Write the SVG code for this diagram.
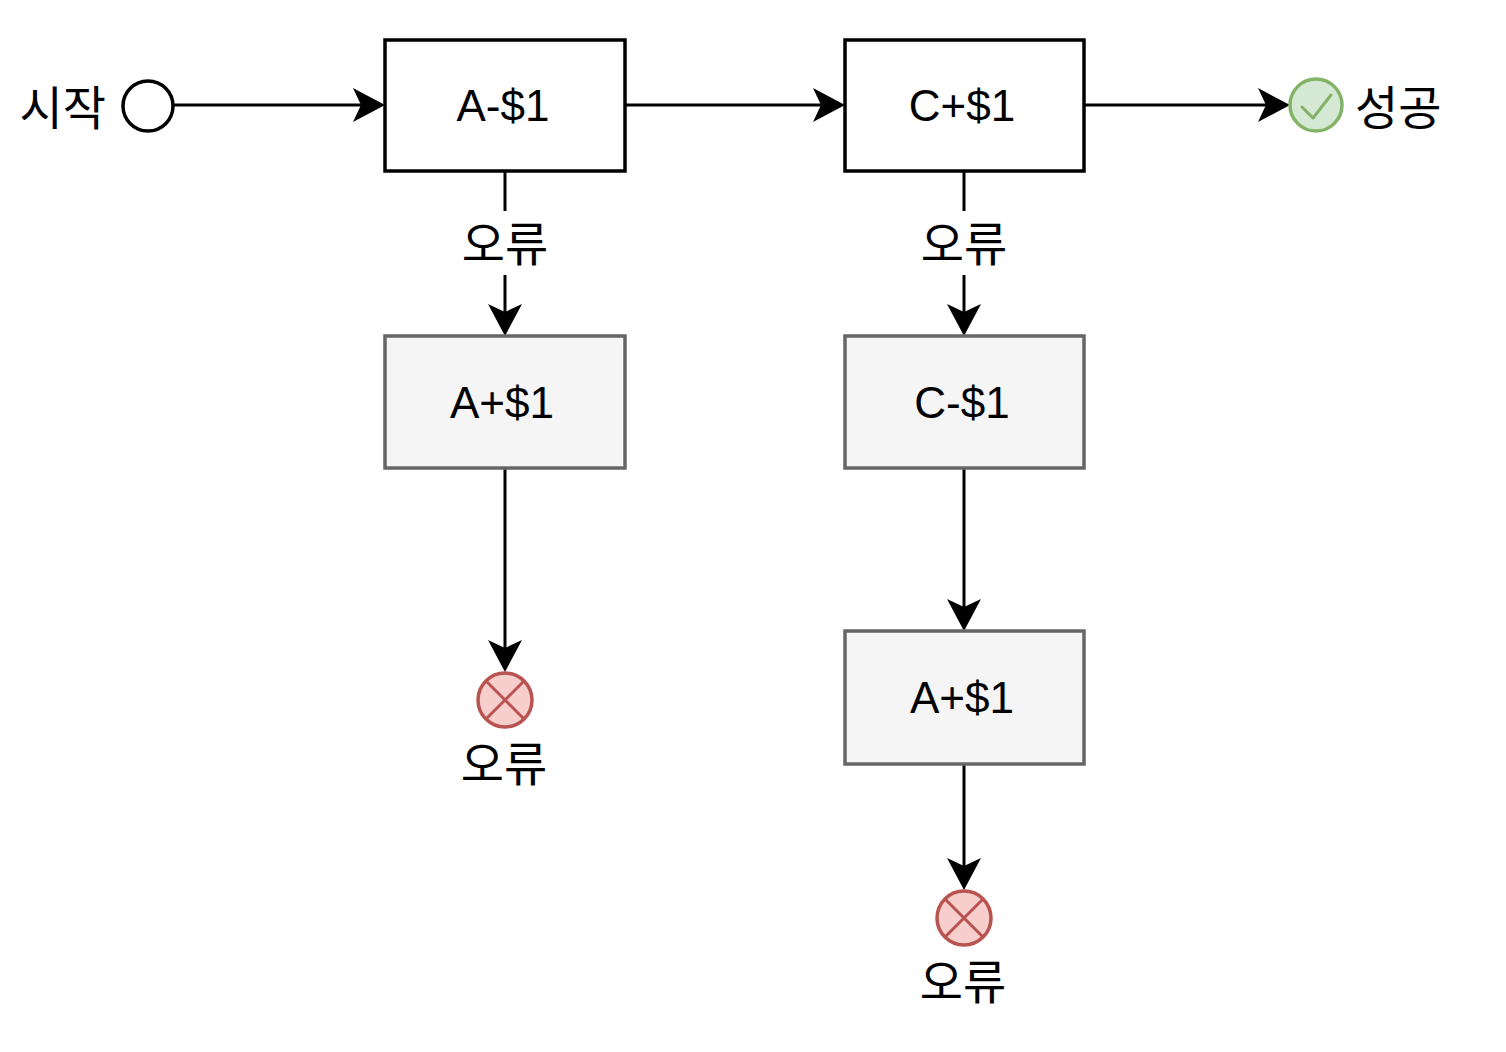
<svg xmlns="http://www.w3.org/2000/svg" width="1506" height="1052" viewBox="0 0 1506 1052">
<defs>
<style>
.box{fill:#ffffff;stroke:#000000;stroke-width:3.5}
.gbox{fill:#f5f5f5;stroke:#666666;stroke-width:3.5}
.lbl{font-family:"Liberation Sans","Noto Sans",Arial,sans-serif;font-size:44px;fill:#000000;text-anchor:middle;dominant-baseline:central}
.ko{font-family:"Noto Sans CJK KR","Noto Sans",sans-serif;font-size:47px;fill:#000000;dominant-baseline:central}
.edge{fill:none;stroke:#000000;stroke-width:3;marker-end:url(#arr)}
.err{fill:#f8cecc;stroke:#b85450;stroke-width:3.5}
.ok{fill:#d5e8d4;stroke:#82b366;stroke-width:3.5}
</style>
<marker id="arr" viewBox="0 0 32 34" refX="8" refY="17" markerWidth="32" markerHeight="34" markerUnits="userSpaceOnUse" orient="auto">
<path d="M0,0 L32,17 L0,34 L8,17 Z" fill="#000000"/>
</marker>
</defs>
<rect width="1506" height="1052" fill="#ffffff"/>
<g id="connectors">
<line class="edge" x1="173" y1="105" x2="361" y2="105"/>
<line class="edge" x1="625" y1="105" x2="821" y2="105"/>
<line class="edge" x1="1084" y1="105" x2="1266" y2="105"/>
<line class="edge" x1="505" y1="171" x2="505" y2="312"/>
<line class="edge" x1="964" y1="171" x2="964" y2="312"/>
<line class="edge" x1="505" y1="468" x2="505" y2="648"/>
<line class="edge" x1="964" y1="468" x2="964" y2="607"/>
<line class="edge" x1="964" y1="764" x2="964" y2="866"/>
<g id="edge-labels">
<rect x="450" y="211" width="110" height="64" fill="#ffffff"/>
<text class="ko" x="505" y="240" text-anchor="middle">오류</text>
<rect x="909" y="211" width="110" height="64" fill="#ffffff"/>
<text class="ko" x="964" y="240" text-anchor="middle">오류</text>
</g>
</g>
<g id="start">
<circle cx="148" cy="106" r="25" fill="#ffffff" stroke="#000000" stroke-width="3.5"/>
<text class="ko" x="106" y="104" text-anchor="end">시작</text>
</g>
<g id="a-minus">
<rect class="box" x="385" y="40" width="240" height="131"/>
<text class="lbl" x="503" y="105">A-$1</text>
</g>
<g id="c-plus">
<rect class="box" x="845" y="40" width="239" height="131"/>
<text class="lbl" x="962" y="105">C+$1</text>
</g>
<g id="success">
<circle class="ok" cx="1316" cy="105" r="26"/>
<path d="M1302,107 L1313,118 L1331,95" fill="none" stroke="#82b366" stroke-width="3" stroke-linecap="round" stroke-linejoin="round"/>
<text class="ko" x="1355" y="104" text-anchor="start">성공</text>
</g>
<g id="a-plus-1">
<rect class="gbox" x="385" y="336" width="240" height="132"/>
<text class="lbl" x="502" y="402">A+$1</text>
</g>
<g id="c-minus">
<rect class="gbox" x="845" y="336" width="239" height="132"/>
<text class="lbl" x="962" y="402">C-$1</text>
</g>
<g id="a-plus-2">
<rect class="gbox" x="845" y="631" width="239" height="133"/>
<text class="lbl" x="962" y="697">A+$1</text>
</g>
<g id="error-1">
<circle class="err" cx="505" cy="700" r="27"/>
<path d="M486,681 L524,719 M524,681 L486,719" stroke="#b85450" stroke-width="3" fill="none"/>
<text class="ko" x="504" y="760" text-anchor="middle">오류</text>
</g>
<g id="error-2">
<circle class="err" cx="964" cy="918" r="27"/>
<path d="M945,899 L983,937 M983,899 L945,937" stroke="#b85450" stroke-width="3" fill="none"/>
<text class="ko" x="963" y="978" text-anchor="middle">오류</text>
</g>
</svg>
